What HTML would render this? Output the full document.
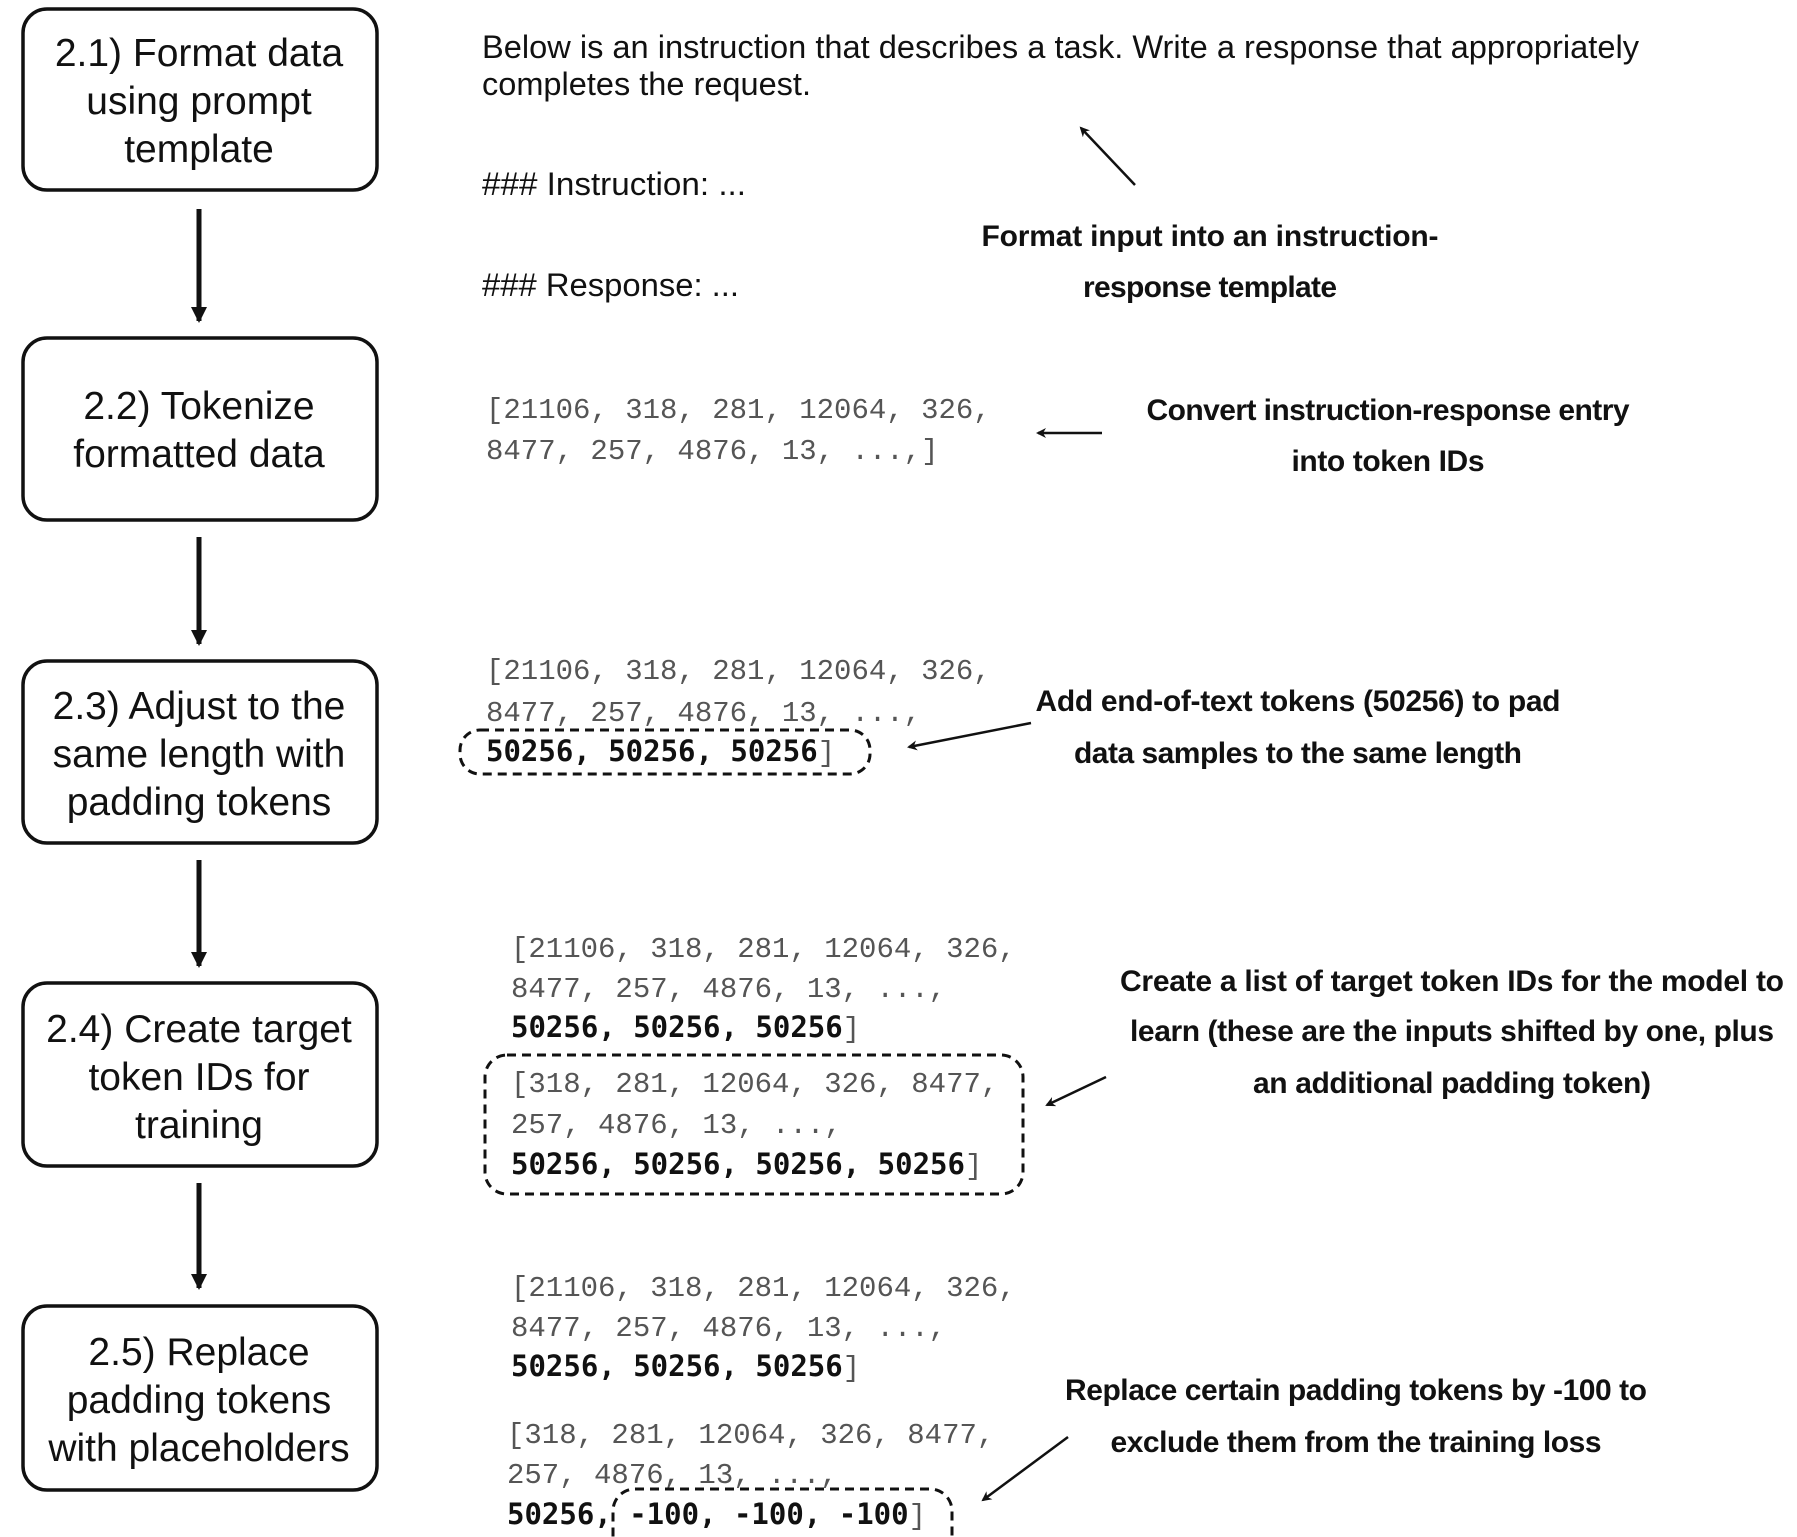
<!DOCTYPE html>
<html><head><meta charset="utf-8"><style>
html,body{margin:0;padding:0;background:#fff;}
svg{display:block;}
.box{font-family:"Liberation Sans",sans-serif;font-size:39px;fill:#111;text-anchor:middle;}
.plain{font-family:"Liberation Sans",sans-serif;font-size:32px;fill:#111;}
.bd{font-family:"Liberation Sans",sans-serif;font-weight:bold;font-size:30px;fill:#111;text-anchor:middle;}
.mono{font-family:"Liberation Mono",monospace;font-size:29px;fill:#555;}
.mb{font-family:"DejaVu Sans Mono","Liberation Mono",monospace;font-weight:bold;fill:#111;}
</style></head><body>
<svg width="1797" height="1537" viewBox="0 0 1797 1537" xmlns="http://www.w3.org/2000/svg">
<defs><marker id="ah" markerWidth="10" markerHeight="10" refX="8" refY="5" orient="auto" markerUnits="userSpaceOnUse"><path d="M0,0 L10,5 L0,10 L3,5 Z" fill="#111"/></marker>
<marker id="ah2" markerWidth="16" markerHeight="16" refX="14" refY="8" orient="auto" markerUnits="userSpaceOnUse"><path d="M0,0 L16,8 L0,16 Z" fill="#111"/></marker></defs>
<g fill="none" stroke="#111" stroke-width="3.5">
<rect x="23" y="9" width="354" height="181" rx="24"/>
<rect x="23" y="338" width="354" height="182" rx="24"/>
<rect x="23" y="661" width="354" height="182" rx="24"/>
<rect x="23" y="983" width="354" height="183" rx="24"/>
<rect x="23" y="1306" width="354" height="184" rx="24"/>
</g>
<g stroke="#111" stroke-width="5" marker-end="url(#ah2)">
<line x1="199" y1="209" x2="199" y2="321"/>
<line x1="199" y1="537" x2="199" y2="644"/>
<line x1="199" y1="860" x2="199" y2="966"/>
<line x1="199" y1="1183" x2="199" y2="1288"/>
</g>
<text class="box" x="199" y="66">2.1) Format data</text>
<text class="box" x="199" y="114">using prompt</text>
<text class="box" x="199" y="162">template</text>
<text class="box" x="199" y="419">2.2) Tokenize</text>
<text class="box" x="199" y="467">formatted data</text>
<text class="box" x="199" y="719">2.3) Adjust to the</text>
<text class="box" x="199" y="767">same length with</text>
<text class="box" x="199" y="815">padding tokens</text>
<text class="box" x="199" y="1042">2.4) Create target</text>
<text class="box" x="199" y="1090">token IDs for</text>
<text class="box" x="199" y="1138">training</text>
<text class="box" x="199" y="1365">2.5) Replace</text>
<text class="box" x="199" y="1413">padding tokens</text>
<text class="box" x="199" y="1461">with placeholders</text>

<text class="plain" x="482" y="58" textLength="1157" lengthAdjust="spacingAndGlyphs">Below is an instruction that describes a task. Write a response that appropriately</text>
<text class="plain" x="482" y="95" textLength="329" lengthAdjust="spacingAndGlyphs">completes the request.</text>
<text class="plain" x="482" y="195" textLength="264" lengthAdjust="spacingAndGlyphs">### Instruction: ...</text>
<text class="plain" x="482" y="296" textLength="257" lengthAdjust="spacingAndGlyphs">### Response: ...</text>

<g stroke="#111" stroke-width="2.5" marker-end="url(#ah)">
<line x1="1135" y1="185" x2="1081" y2="128"/>
<line x1="1102" y1="433" x2="1038" y2="433"/>
<line x1="1031" y1="723" x2="909" y2="747"/>
<line x1="1106" y1="1077" x2="1047" y2="1105"/>
<line x1="1068" y1="1437" x2="983" y2="1500"/>
</g>

<text class="bd" x="1210" y="246" textLength="457">Format input into an instruction-</text>
<text class="bd" x="1210" y="297" textLength="254">response template</text>
<text class="bd" x="1388" y="420" textLength="483">Convert instruction-response entry</text>
<text class="bd" x="1388" y="471" textLength="193">into token IDs</text>
<text class="bd" x="1298" y="711" textLength="525">Add end-of-text tokens (50256) to pad</text>
<text class="bd" x="1298" y="763" textLength="448">data samples to the same length</text>
<text class="bd" x="1452" y="991" textLength="664">Create a list of target token IDs for the model to</text>
<text class="bd" x="1452" y="1041" textLength="644">learn (these are the inputs shifted by one, plus</text>
<text class="bd" x="1452" y="1093" textLength="398">an additional padding token)</text>
<text class="bd" x="1356" y="1400" textLength="582">Replace certain padding tokens by -100 to</text>
<text class="bd" x="1356" y="1452" textLength="491">exclude them from the training loss</text>

<text class="mono" x="486" y="418">[21106, 318, 281, 12064, 326,</text>
<text class="mono" x="486" y="459">8477, 257, 4876, 13, ...,]</text>

<text class="mono" x="486" y="679">[21106, 318, 281, 12064, 326,</text>
<text class="mono" x="486" y="721">8477, 257, 4876, 13, ...,</text>
<text class="mono" x="486" y="761"><tspan class="mb">50256, 50256, 50256</tspan>]</text>
<rect x="460" y="730" width="410" height="44" rx="20" fill="none" stroke="#111" stroke-width="3" stroke-dasharray="9,6"/>

<text class="mono" x="511" y="957">[21106, 318, 281, 12064, 326,</text>
<text class="mono" x="511" y="997">8477, 257, 4876, 13, ...,</text>
<text class="mono" x="511" y="1037"><tspan class="mb">50256, 50256, 50256</tspan>]</text>
<rect x="485" y="1055" width="538" height="139" rx="22" fill="none" stroke="#111" stroke-width="3" stroke-dasharray="9,6"/>
<text class="mono" x="511" y="1092">[318, 281, 12064, 326, 8477,</text>
<text class="mono" x="511" y="1133">257, 4876, 13, ...,</text>
<text class="mono" x="511" y="1174"><tspan class="mb">50256, 50256, 50256, 50256</tspan>]</text>

<text class="mono" x="511" y="1296">[21106, 318, 281, 12064, 326,</text>
<text class="mono" x="511" y="1336">8477, 257, 4876, 13, ...,</text>
<text class="mono" x="511" y="1376"><tspan class="mb">50256, 50256, 50256</tspan>]</text>
<text class="mono" x="507" y="1443">[318, 281, 12064, 326, 8477,</text>
<text class="mono" x="507" y="1483">257, 4876, 13, ...,</text>
<text class="mono" x="507" y="1524"><tspan class="mb">50256, -100, -100, -100</tspan>]</text>
<rect x="613" y="1489" width="339" height="70" rx="22" fill="none" stroke="#111" stroke-width="3" stroke-dasharray="9,6"/>
</svg>
</body></html>
